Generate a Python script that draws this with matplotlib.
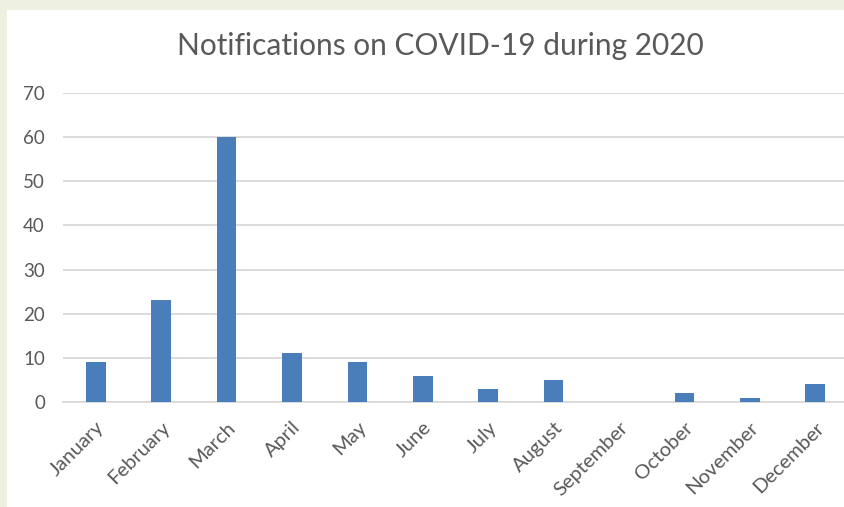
import matplotlib.pyplot as plt
from matplotlib.patches import Rectangle
from matplotlib.transforms import ScaledTranslation

months = ["January", "February", "March", "April", "May", "June", "July",
          "August", "September", "October", "November", "December"]
notifications = [9, 23, 60, 11, 9, 6, 3, 5, 0, 2, 1, 4]
y_ticks = [0, 10, 20, 30, 40, 50, 60, 70]

BAR = "#4a7ebb"
GRID = "#d9d9d9"
TEXT = "#595959"

plt.rcParams["font.family"] = ["Lato", "DejaVu Sans"]

fig = plt.figure(figsize=(8.44, 5.07), dpi=100)
fig.patch.set_facecolor("#eef0e2")
# white chart area, offset a little from the top-left corner
fig.patches.append(Rectangle((7 / 844, 0), 1, 1 - 10 / 507,
                             transform=fig.transFigure, facecolor="white",
                             edgecolor="none", zorder=-5))

ax = fig.add_axes([63 / 844, 1 - 402 / 507, 785 / 844, 309 / 507])
ax.set_zorder(2)
ax.set_facecolor("none")
x = range(len(months))
ax.bar(x, notifications, width=0.3, color=BAR, zorder=3)

ax.set_xlim(-0.5, len(months) - 0.5)
ax.set_ylim(0, 70)
ax.set_yticks(y_ticks)
ax.yaxis.grid(True, color=GRID, linewidth=1.3, zorder=0)
ax.set_xticks(list(x))
ax.set_xticklabels(months, rotation=45, ha="right", rotation_mode="anchor",
                   fontsize=14.5, color=TEXT)
# nudge the slanted month names a bit to the right, like the original
shift = ScaledTranslation(5 / 100, 0, fig.dpi_scale_trans)
for lbl in ax.get_xticklabels():
    lbl.set_transform(lbl.get_transform() + shift)
ax.tick_params(axis="y", labelsize=13.5, labelcolor=TEXT, length=0, pad=13)
ax.tick_params(axis="x", length=0, pad=12)
for s in ["top", "right", "left"]:
    ax.spines[s].set_visible(False)
ax.spines["bottom"].set_color(GRID)
ax.spines["bottom"].set_linewidth(1.3)

fig.text(440 / 844, 1 - 46 / 507, "Notifications on COVID-19 during 2020",
         ha="center", va="center", fontsize=21.5, color=TEXT, zorder=3)

fig.savefig("out.png", dpi=100)
